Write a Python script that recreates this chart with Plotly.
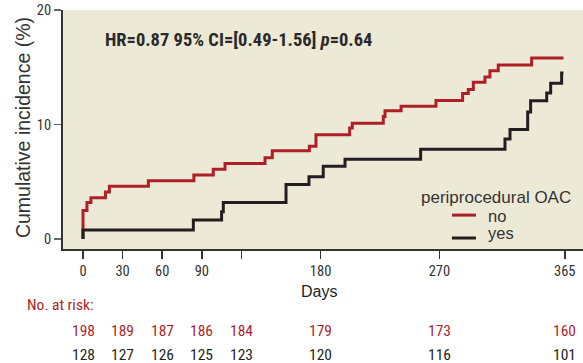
import plotly.graph_objects as go

# ---- data ----
no_days = [0, 0, 3, 6, 17, 20, 49.5, 84, 98.7, 107.6, 137.9, 143.4, 171.5, 176.5, 202, 204,
           227.5, 228.8, 241, 267.4, 287.6, 291.9, 295.7, 304.5, 308.3, 314.6, 339.9, 364]
no_pct = [0, 2.5, 3.2, 3.6, 4.1, 4.6, 5.1, 5.6, 6.1, 6.6, 7.1, 7.7, 8.1, 9.1, 9.7, 10.1,
          10.7, 11.2, 11.6, 12.1, 12.7, 13.05, 13.7, 14.15, 14.7, 15.2, 15.8, 15.8]

yes_days = [0, 0, 83.6, 105, 106.3, 153.8, 171.2, 182, 198.5, 255.8, 319.7, 323.5,
            336.9, 339.1, 351.3, 354.3, 362.6, 364]
yes_pct = [0, 0.78, 1.66, 2.38, 3.2, 4.77, 5.43, 6.36, 6.97, 7.85, 8.74, 9.56,
           11.1, 12.07, 12.75, 13.6, 14.5, 14.5]

x_tickvals = [0, 30, 60, 90, 120, 180, 270, 365]
x_ticktext = ["0", "30", "60", "90", "", "180", "270", "365"]
y_tickvals = [0, 10, 20]

risk_days = [0, 30, 60, 90, 120, 180, 270, 365]
risk_no = [198, 189, 187, 186, 184, 179, 173, 160]
risk_yes = [128, 127, 126, 125, 123, 120, 116, 101]

RED = "#AE1F28"
BLACK = "#231F20"
BG = "#EDE9D7"
COND = "Roboto Condensed, Roboto, Liberation Sans, sans-serif"
REG = "Liberation Sans, Arial, Helvetica, sans-serif"

fig = go.Figure()
fig.add_trace(go.Scatter(x=no_days, y=no_pct, mode="lines", line_shape="hv",
                         line=dict(color=RED, width=3), name="no", showlegend=False,
                         hoverinfo="skip"))
fig.add_trace(go.Scatter(x=yes_days, y=yes_pct, mode="lines", line_shape="hv",
                         line=dict(color=BLACK, width=3), name="yes", showlegend=False,
                         hoverinfo="skip"))

fig.update_layout(
    width=583, height=363,
    margin=dict(l=63, r=0, t=10, b=114, autoexpand=False),
    paper_bgcolor="white", plot_bgcolor=BG,
    xaxis=dict(range=[-15.15, 378.8], tickvals=x_tickvals, ticktext=x_ticktext,
               ticks="outside", ticklen=8, tickwidth=1.5, tickcolor="#333",
               showline=True, linecolor="#333", linewidth=2, showgrid=False, zeroline=False,
               automargin=False,
               tickfont=dict(family=COND, size=14.5, color="#333")),
    yaxis=dict(range=[-0.87, 20], tickvals=y_tickvals,
               ticks="outside", ticklen=7, tickwidth=1.2, tickcolor="#666",
               showline=True, linecolor="#333", linewidth=2, showgrid=False, zeroline=False,
               automargin=False,
               tickfont=dict(family=COND, size=14.5, color="#333")),
)

ann = []
# y-axis title
ann.append(dict(x=-0.077, y=0.51, xref="paper", yref="paper", xanchor="center", yanchor="middle",
                textangle=-90, text="Cumulative incidence (%)", showarrow=False,
                font=dict(family=REG, size=19.5, color="#333")))
# HR annotation
ann.append(dict(x=15, y=17.35, xref="x", yref="y", xanchor="left", yanchor="middle",
                text="<b>HR=0.87 95% CI=[0.49-1.56] <i>p</i>=0.64</b>", showarrow=False,
                font=dict(family=COND, size=18.5, color="#2a2a2a")))
# Days label
ann.append(dict(x=179, y=-0.176, xref="x", yref="paper", xanchor="center", yanchor="middle",
                text="Days", showarrow=False, font=dict(family=REG, size=16, color="#222")))
# No. at risk
ann.append(dict(x=-0.073, y=-0.234, xref="paper", yref="paper", xanchor="left", yanchor="middle",
                text="No. at risk:", showarrow=False, font=dict(family=COND, size=15.5, color=RED)))
for d, a, b in zip(risk_days, risk_no, risk_yes):
    ann.append(dict(x=d, y=-0.343, xref="x", yref="paper", xanchor="center", yanchor="middle",
                    text=str(a), showarrow=False, font=dict(family=COND, size=15.5, color=RED)))
    ann.append(dict(x=d, y=-0.443, xref="x", yref="paper", xanchor="center", yanchor="middle",
                    text=str(b), showarrow=False, font=dict(family=COND, size=15.5, color=BLACK)))
# Legend
ann.append(dict(x=254.5, y=3.66, xref="x", yref="y", xanchor="left", yanchor="middle",
                text="periprocedural OAC", showarrow=False, font=dict(family=REG, size=17, color="#333")))
ann.append(dict(x=305.3, y=2.05, xref="x", yref="y", xanchor="left", yanchor="middle",
                text="no", showarrow=False, font=dict(family=REG, size=16.5, color="#333")))
ann.append(dict(x=305.3, y=0.55, xref="x", yref="y", xanchor="left", yanchor="middle",
                text="yes", showarrow=False, font=dict(family=REG, size=16.5, color="#333")))
fig.update_layout(annotations=ann)

fig.add_shape(type="line", x0=279.5, x1=297.7, y0=2.09, y1=2.09, xref="x", yref="y",
              line=dict(color=RED, width=3))
fig.add_shape(type="line", x0=279.5, x1=297.7, y0=0.09, y1=0.09, xref="x", yref="y",
              line=dict(color=BLACK, width=3))

fig.write_html("out.html", config={"displayModeBar": False, "staticPlot": True},
               post_script="document.body.style.margin='0px';")
